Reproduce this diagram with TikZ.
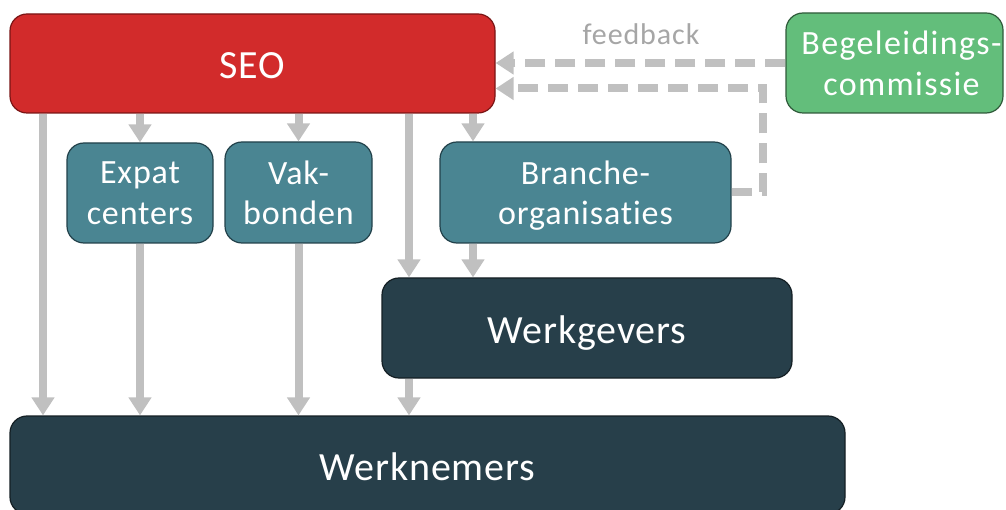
\documentclass[tikz,border=0pt]{standalone}
\usepackage{fontspec}
\setmainfont{Carlito}[Ligatures=NoCommon]
\usetikzlibrary{arrows.meta,calc}
\definecolor{seored}{HTML}{D22B2B}
\definecolor{seoredb}{HTML}{7A1515}
\definecolor{teal}{HTML}{4A8592}
\definecolor{tealb}{HTML}{22414A}
\definecolor{dark}{HTML}{273F4A}
\definecolor{darkb}{HTML}{141F24}
\definecolor{grn}{HTML}{63BE7B}
\definecolor{grnb}{HTML}{2F5A3A}
\definecolor{arrgray}{HTML}{C0C0C0}
\definecolor{fbtext}{HTML}{A6A6A6}
\begin{document}
\begin{tikzpicture}[x=1pt,y=-1pt,
  box/.style={draw, line width=1.2pt, rounded corners=17pt, text=white, align=center, inner sep=0pt},
  bigtxt/.style={font=\fontsize{40}{44}\selectfont\addfontfeature{LetterSpace=2}, text height=34pt, text depth=3pt},
  smalltxt/.style={font=\fontsize{34}{40.5}\selectfont\addfontfeature{LetterSpace=2.5}, text depth=-8pt},
  arr/.style={draw=arrgray, line width=8pt, -{Triangle[length=18pt,width=22pt]}},
  fb/.style={draw=arrgray, line width=8pt, dash pattern=on 20pt off 10pt, -{Triangle[length=18pt,width=22pt]}}
]
\useasboundingbox (0,0) rectangle (1006,510);
\node[box, bigtxt, fill=seored, draw=seoredb, minimum width=485pt, minimum height=99pt] (seo) at (252.5,63.5) {SEO};
\node[box, smalltxt, fill=teal, draw=tealb, minimum width=146pt, minimum height=100pt] (exp) at (140,193) {Expat\\centers};
\node[box, smalltxt, fill=teal, draw=tealb, minimum width=147pt, minimum height=101pt] (vak) at (298.5,192.5) {Vak-\\bonden};
\node[box, smalltxt, fill=teal, draw=tealb, minimum width=291pt, minimum height=101pt, text depth=-6pt] (br) at (585.5,192.5) {Branche-\\organisaties};
\node[box, bigtxt, fill=dark, draw=darkb, minimum width=410pt, minimum height=100pt] (wg) at (587,328) {Werkgevers};
\node[box, bigtxt, fill=dark, draw=darkb, minimum width=835pt, minimum height=98pt] (wn) at (427.5,465) {Werknemers};
\node[box, smalltxt, fill=grn, draw=grnb, minimum width=217pt, minimum height=100pt, font=\fontsize{34}{40.5}\selectfont\addfontfeature{LetterSpace=4}, text depth=-4pt] (bc) at (894.5,63) {\hspace*{14pt}Begeleidings-\\\hspace*{14pt}commissie};
\node[font=\fontsize{30}{34}\selectfont\addfontfeature{LetterSpace=3}, text=fbtext] (fbl) at (641,34) {feedback};
\coordinate (c1) at (43,0);
\coordinate (c2) at (409,0);
\coordinate (c3) at (473,0);
\draw[arr] (seo.south -| c1) -- (wn.north -| c1);
\draw[arr] (seo.south -| exp.north) -- (exp.north);
\draw[arr] (seo.south -| vak.north) -- (vak.north);
\draw[arr] (seo.south -| c2) -- (wg.north -| c2);
\draw[arr] (seo.south -| c3) -- (br.north -| c3);
\draw[arr] (exp.south) -- (wn.north -| exp.south);
\draw[arr] (vak.south) -- (wn.north -| vak.south);
\draw[arr] (br.south -| c3) -- (wg.north -| c3);
\draw[arr] (wg.south -| c2) -- (wn.north -| c2);
\draw[fb] (bc.west) -- (bc.west -| seo.east);
\draw[fb] (br.east) -- ++(31,0) |- ($(seo.east)+(0,25)$);
\end{tikzpicture}
\end{document}
